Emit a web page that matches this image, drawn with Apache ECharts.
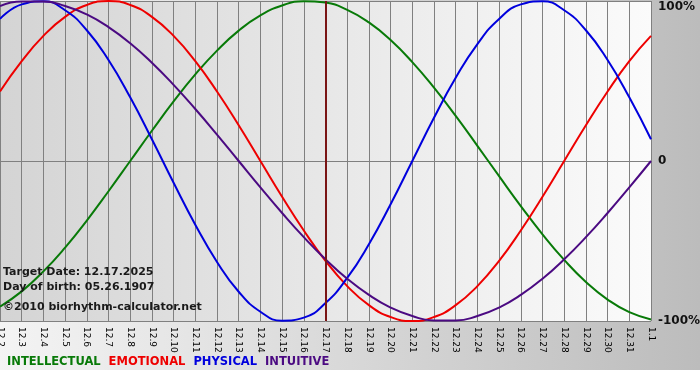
<!DOCTYPE html>
<html>
<head>
<meta charset="utf-8">
<script src="https://cdn.jsdelivr.net/npm/echarts@6/dist/echarts.min.js"></script>
<style>
  html, body { margin: 0; padding: 0; background: #fff; }
  #chart { width: 700px; height: 380px; }
</style>
</head>
<body>
<div id="chart"></div>
<script>
  var days = ['12.2', '12.3', '12.4', '12.5', '12.6', '12.7', '12.8', '12.9', '12.10', '12.11',
    '12.12', '12.13', '12.14', '12.15', '12.16', '12.17', '12.18', '12.19', '12.20', '12.21',
    '12.22', '12.23', '12.24', '12.25', '12.26', '12.27', '12.28', '12.29', '12.30', '12.31', '1.1'];

  var intellectual = [-91.0, -81.5, -69.0, -54.1, -37.2, -18.9, 0, 18.9, 37.2, 54.1,
    69.0, 81.5, 91.0, 97.2, 99.9, 99.0, 94.5, 86.6, 75.6, 61.8,
    45.8, 28.2, 9.5, -9.5, -28.2, -45.8, -61.8, -75.6, -86.6, -94.5, -99.0];

  var emotional = [43.4, 62.4, 78.2, 90.1, 97.5, 100, 97.5, 90.1, 78.2, 62.4,
    43.4, 22.3, 0, -22.3, -43.4, -62.4, -78.2, -90.1, -97.5, -100,
    -97.5, -90.1, -78.2, -62.4, -43.4, -22.3, 0, 22.3, 43.4, 62.4, 78.2];

  var physical = [88.8, 97.9, 99.8, 94.2, 81.7, 63.1, 39.8, 13.6, -13.6, -39.8,
    -63.1, -81.7, -94.2, -99.8, -97.9, -88.8, -73.1, -52.0, -27.0, 0,
    27.0, 52.0, 73.1, 88.8, 97.9, 99.8, 94.2, 81.7, 63.1, 39.8, 13.6];

  var intuitive = [96.9, 99.7, 99.7, 96.9, 91.6, 83.7, 73.6, 61.4, 47.6, 32.5,
    16.5, 0, -16.5, -32.5, -47.6, -61.4, -73.6, -83.7, -91.6, -96.9,
    -99.7, -99.7, -96.9, -91.6, -83.7, -73.6, -61.4, -47.6, -32.5, -16.5, 0];

  var yTicks = [-100, 0, 100];
  var targetDay = '12.17';
  var infoLines = ['Target Date: 12.17.2025', 'Day of birth: 05.26.1907', '\u00a92010 biorhythm-calculator.net'];

  var colors = {
    INTELLECTUAL: '#087a08',
    EMOTIONAL: '#ee0000',
    PHYSICAL: '#0000dd',
    INTUITIVE: '#4b0a82'
  };

  var font = 'DejaVu Sans';

  var chart = echarts.init(document.getElementById('chart'));

  function lineSeries(name, values) {
    return {
      name: name,
      type: 'line',
      data: values,
      smooth: true,
      symbol: 'none',
      lineStyle: { width: 2, color: colors[name] },
      itemStyle: { color: colors[name] }
    };
  }

  var series = [
    lineSeries('INTELLECTUAL', intellectual),
    lineSeries('EMOTIONAL', emotional),
    lineSeries('PHYSICAL', physical),
    lineSeries('INTUITIVE', intuitive)
  ];

  // target date marker
  series[3].markLine = {
    silent: true,
    symbol: 'none',
    label: { show: false },
    lineStyle: { color: '#7a1515', width: 2, type: 'solid' },
    data: [{ xAxis: targetDay }]
  };

  var option = {
    animation: false,
    backgroundColor: {
      type: 'linear', x: 0, y: 0, x2: 1, y2: 0,
      colorStops: [{ offset: 0, color: '#f4f4f4' }, { offset: 1, color: '#bcbcbc' }]
    },
    grid: {
      left: 0, right: 49, top: 1, bottom: 59,
      outerBoundsMode: 'none',
      containLabel: false,
      show: true,
      borderWidth: 0,
      backgroundColor: {
        type: 'linear', x: 0, y: 0, x2: 1, y2: 0,
        colorStops: [{ offset: 0, color: '#d4d4d4' }, { offset: 1, color: '#fbfbfb' }]
      }
    },
    legend: {
      left: 2, top: 355,
      padding: 0,
      icon: 'none',
      itemWidth: 0,
      itemGap: 3,
      selectedMode: false,
      textStyle: { fontFamily: font, fontWeight: 'bold', fontSize: 11.5 },
      data: Object.keys(colors).map(function (n) {
        return { name: n, textStyle: { color: colors[n] } };
      })
    },
    xAxis: {
      type: 'category',
      data: days,
      boundaryGap: false,
      axisLine: { lineStyle: { color: '#808080' } },
      axisTick: { show: true, interval: 0, length: 4, lineStyle: { color: '#808080' } },
      splitLine: { show: true, interval: 0, lineStyle: { color: '#808080', width: 1 } },
      axisLabel: {
        interval: 0,
        rotate: -90,
        margin: 6,
        color: '#000',
        fontFamily: font,
        fontSize: 9,
        hideOverlap: false
      }
    },
    yAxis: {
      type: 'value',
      position: 'right',
      min: yTicks[0],
      max: yTicks[yTicks.length - 1],
      interval: 100,
      axisLine: { show: false },
      axisTick: { show: false },
      splitLine: { lineStyle: { color: '#808080', width: 1 } },
      axisLabel: {
        margin: 7,
        color: '#111',
        fontFamily: font,
        fontWeight: 'bold',
        fontSize: 12,
        verticalAlignMaxLabel: 'top',
        formatter: function (v) { return v === 0 ? '0' : v + '%'; }
      }
    },
    graphic: infoLines.map(function (t, i) {
      return {
        type: 'text',
        left: 3,
        top: [267, 282, 302][i],
        z: 100,
        style: { text: t, fill: '#1a1a1a', font: 'bold 11px "DejaVu Sans"' }
      };
    }).concat([{
      type: 'rect',
      left: 0, top: 370, z: -1,
      shape: { width: 700, height: 10 },
      style: { fill: '#ffffff' }
    }]),
    series: series
  };

  chart.setOption(option);
</script>
</body>
</html>
